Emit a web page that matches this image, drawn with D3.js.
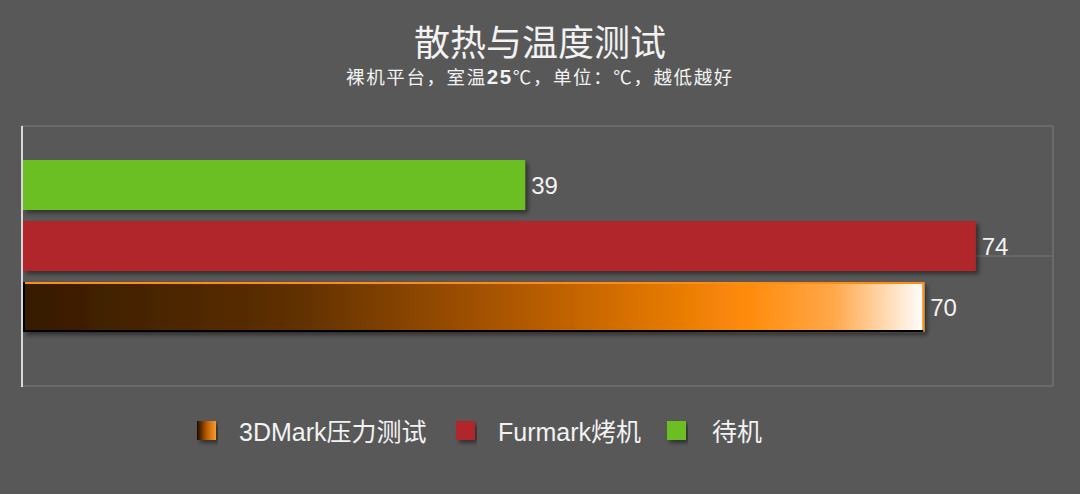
<!DOCTYPE html>
<html lang="zh">
<head>
<meta charset="UTF-8">
<title>散热与温度测试</title>
<script src="https://cdn.jsdelivr.net/npm/d3@7/dist/d3.min.js"></script>
<style>
    body { margin: 0; background: #585858; }
    svg { display: block; font-family: "Liberation Sans", "Noto Sans CJK SC", sans-serif; }
</style>
</head>
<body>
<svg id="chart" width="1080" height="494"></svg>
<script>
// data, top bar first
const series = ["待机", "Furmark烤机", "3DMark压力测试"];
const values = [39, 74, 70];
const legendOrder = ["3DMark压力测试", "Furmark烤机", "待机"];
const xDomain = [0, 80];

const W = 1080, H = 494;
const plot = { left: 22, right: 1053, top: 126, bottom: 386 };

const svg = d3.select("#chart");
const defs = svg.append("defs");

const grad = defs.append("linearGradient").attr("id", "gOrange")
    .attr("x1", "0%").attr("x2", "100%").attr("y1", "0%").attr("y2", "0%");
[[0, "#351a03"], [0.3, "#5e3000"], [0.55, "#b05800"], [0.8, "#ff8a08"], [0.9, "#ffa84a"], [1, "#ffffff"]]
    .forEach(s => grad.append("stop").attr("offset", s[0]).attr("stop-color", s[1]));

const lgGrad = defs.append("linearGradient").attr("id", "gLegend")
    .attr("x1", "0%").attr("x2", "100%");
[[0, "#1a0c00"], [0.5, "#b65c00"], [1, "#ff9a2a"]]
    .forEach(s => lgGrad.append("stop").attr("offset", s[0]).attr("stop-color", s[1]));

const shadow = defs.append("filter").attr("id", "shadow")
    .attr("x", "-5%").attr("y", "-20%").attr("width", "115%").attr("height", "150%");
shadow.append("feDropShadow").attr("dx", 3).attr("dy", 3).attr("stdDeviation", 2)
    .attr("flood-color", "#000").attr("flood-opacity", 0.45);

const fills = { "待机": "#6cbf22", "Furmark烤机": "#b0262a", "3DMark压力测试": "url(#gOrange)" };
const legendFills = { "待机": "#6cbf22", "Furmark烤机": "#b0262a", "3DMark压力测试": "url(#gLegend)" };

const x = d3.scaleLinear().domain(xDomain).range([plot.left + 1, plot.right]);
const y = d3.scaleBand().domain(series).range([154.5, 337.5]).paddingInner(0.18).paddingOuter(0.09);

// title
svg.append("text").attr("x", W / 2).attr("y", 56).attr("text-anchor", "middle")
    .attr("fill", "#f2f2f2").attr("font-size", 36).text("散热与温度测试");
const sub = svg.append("text").attr("x", W / 2).attr("y", 84).attr("text-anchor", "middle")
    .attr("fill", "#f2f2f2").attr("font-size", 18.5).attr("letter-spacing", 1.6);
sub.append("tspan").text("裸机平台，室温");
sub.append("tspan").attr("font-weight", "bold").attr("font-size", 20.5).text("25");
sub.append("tspan").text("℃，单位：℃，越低越好");

// plot frame and gridline
svg.append("rect").attr("x", plot.left).attr("y", plot.top)
    .attr("width", plot.right - plot.left).attr("height", plot.bottom - plot.top)
    .attr("fill", "none").attr("stroke", "#707070").attr("stroke-width", 1.5);
svg.append("line").attr("x1", plot.left).attr("x2", plot.right)
    .attr("y1", (plot.top + plot.bottom) / 2).attr("y2", (plot.top + plot.bottom) / 2)
    .attr("stroke", "#6c6c6c").attr("stroke-width", 1.5);

// bars
const bars = svg.append("g").selectAll("g").data(series).join("g");
bars.append("rect")
    .attr("x", x(0)).attr("y", d => y(d))
    .attr("width", (d, i) => x(values[i]) - x(0))
    .attr("height", y.bandwidth())
    .attr("fill", d => fills[d])
    .attr("filter", "url(#shadow)");

// edge strokes on the gradient bar
const oi = series.indexOf("3DMark压力测试");
const oy = y(series[oi]), ox = x(values[oi]);
svg.append("path").attr("d", `M${x(0)},${oy + 1} H${ox - 1} V${oy + y.bandwidth()}`)
    .attr("fill", "none").attr("stroke", "#ff8c14").attr("stroke-width", 2);
svg.append("line").attr("x1", x(0)).attr("x2", ox - 1)
    .attr("y1", oy + y.bandwidth() - 1).attr("y2", oy + y.bandwidth() - 1)
    .attr("stroke", "#000").attr("stroke-width", 2);
svg.append("line").attr("x1", x(0) + 1).attr("x2", x(0) + 1)
    .attr("y1", oy).attr("y2", oy + y.bandwidth())
    .attr("stroke", "#000").attr("stroke-width", 2);

// value labels
svg.append("g").selectAll("text").data(series).join("text")
    .attr("x", (d, i) => x(values[i]) + 6)
    .attr("y", d => y(d) + y.bandwidth() / 2 + 8.5)
    .attr("fill", "#f2f2f2").attr("font-size", 24)
    .text((d, i) => values[i]);

// left axis line
svg.append("line").attr("x1", plot.left).attr("x2", plot.left)
    .attr("y1", plot.top).attr("y2", plot.bottom + 1)
    .attr("stroke", "#d8d8d8").attr("stroke-width", 2);

// legend
const legendX = [197, 456, 667];
const lg = svg.append("g").selectAll("g").data(legendOrder).join("g")
    .attr("transform", (d, i) => `translate(${legendX[i]},421)`);
lg.append("rect").attr("width", 19).attr("height", 19)
    .attr("fill", d => legendFills[d]).attr("filter", "url(#shadow)");
lg.append("text").attr("x", d => d === "待机" ? 45 : 42).attr("y", 20)
    .attr("fill", "#f2f2f2").attr("font-size", 25).text(d => d);
</script>
</body>
</html>
